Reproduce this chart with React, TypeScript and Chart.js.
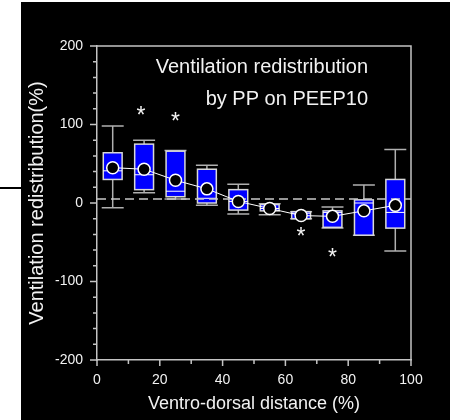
import React, { useEffect, useRef } from 'react';
import { Chart, registerables } from 'chart.js';

Chart.register(...registerables);

// ---- data ----
const positions = [5, 15, 25, 35, 45, 55, 65, 75, 85, 95];
const upperWhisker = [98, 80, 67, 48, 24, -1, -11, -5, 23, 68];
const q3 = [64, 75, 66, 43, 17, -2, -11, -10, 4, 30];
const medians = [41, 36, 15, 6, 2, -7, -13, -12, 0, -12];
const q1 = [30, 17, 8, 0, -9, -10, -20, -31, -41, -32];
const lowerWhisker = [-6, 13, 5, -3, -14, -15, -20, -32, -41, -61];
const means = [45, 43, 29, 18, 2, -7, -16, -17, -10, -3];
const outlierX = [14, 25, 65, 75];
const outlierY = [119, 111, -36, -62];
const referenceLevel = 5;
const referenceX = [0, 100];
const xTickValues = [0, 20, 40, 60, 80, 100];
const yTickValues = [-200, -100, 0, 100, 200];
const titleLines = ['Ventilation redistribution', 'by PP on PEEP10'];
const xTitle = 'Ventro-dorsal distance (%)';
const yTitle = 'Ventilation redistribution(%)';

// ---- styles ----
const FONT = "'Liberation Sans', Arial, sans-serif";
const TEXT = '#f2f2f2';
const AXIS = '#c4c4c4';
const BOX_FILL = '#0000ff';
const BOX_EDGE = '#d8d8d8';
const WHISKER = '#b0b0b0';
const BOX_HALF = 3;
const CAP_HALF = 3.5;

const boxPlugin = {
  id: 'boxes',
  beforeDatasetsDraw(chart: any) {
    const { ctx, scales } = chart;
    const x = scales.x;
    const y = scales.y;
    ctx.save();
    positions.forEach((p, i) => {
      const cx = x.getPixelForValue(p);
      const hw = x.getPixelForValue(p + BOX_HALF) - cx;
      const cw = x.getPixelForValue(p + CAP_HALF) - cx;
      const yUp = y.getPixelForValue(upperWhisker[i]);
      const yQ3 = y.getPixelForValue(q3[i]);
      const yMed = y.getPixelForValue(medians[i]);
      const yQ1 = y.getPixelForValue(q1[i]);
      const yLow = y.getPixelForValue(lowerWhisker[i]);
      ctx.strokeStyle = WHISKER;
      ctx.lineWidth = 1.5;
      ctx.beginPath();
      ctx.moveTo(cx, yUp);
      ctx.lineTo(cx, yQ3);
      ctx.moveTo(cx, yQ1);
      ctx.lineTo(cx, yLow);
      ctx.moveTo(cx - cw, yUp);
      ctx.lineTo(cx + cw, yUp);
      ctx.moveTo(cx - cw, yLow);
      ctx.lineTo(cx + cw, yLow);
      ctx.stroke();
      ctx.fillStyle = BOX_FILL;
      ctx.fillRect(cx - hw, yQ3, 2 * hw, yQ1 - yQ3);
      ctx.strokeStyle = BOX_EDGE;
      ctx.lineWidth = 1.5;
      ctx.strokeRect(cx - hw, yQ3, 2 * hw, yQ1 - yQ3);
      ctx.strokeStyle = '#ffffff';
      ctx.lineWidth = 1;
      ctx.beginPath();
      ctx.moveTo(cx - hw, yMed);
      ctx.lineTo(cx + hw, yMed);
      ctx.stroke();
    });
    ctx.restore();
  },
  afterDatasetsDraw(chart: any) {
    const { ctx, scales, chartArea } = chart;
    const x = scales.x;
    const y = scales.y;
    ctx.save();
    // outlier asterisks
    const starSize = 23;
    ctx.fillStyle = TEXT;
    ctx.font = `${starSize}px ${FONT}`;
    ctx.textAlign = 'center';
    ctx.textBaseline = 'alphabetic';
    outlierX.forEach((vx, i) => {
      ctx.fillText('*', x.getPixelForValue(vx), y.getPixelForValue(outlierY[i]) + starSize * 0.57);
    });
    // inner title
    ctx.font = `20px ${FONT}`;
    ctx.textAlign = 'right';
    ctx.fillText(titleLines[0], chartArea.right - 43, chartArea.top + 27);
    ctx.fillText(titleLines[1], chartArea.right - 43, chartArea.top + 59);
    ctx.restore();
  },
  afterDraw(chart: any) {
    const { ctx, scales, chartArea } = chart;
    const x = scales.x;
    const y = scales.y;
    ctx.save();
    ctx.strokeStyle = AXIS;
    ctx.lineWidth = 1.5;
    ctx.beginPath();
    // frame top and right
    ctx.moveTo(chartArea.left, chartArea.top);
    ctx.lineTo(chartArea.right, chartArea.top);
    ctx.lineTo(chartArea.right, chartArea.bottom);
    // y ticks
    for (let v = y.min; v <= y.max; v += 20) {
      const py = y.getPixelForValue(v);
      const len = yTickValues.includes(v) ? 7 : 4;
      ctx.moveTo(chartArea.left - len, py);
      ctx.lineTo(chartArea.left, py);
    }
    // x ticks
    for (let v = x.min; v <= x.max; v += 10) {
      const px = x.getPixelForValue(v);
      const len = xTickValues.includes(v) ? 6 : 4;
      ctx.moveTo(px, chartArea.bottom);
      ctx.lineTo(px, chartArea.bottom + len);
    }
    ctx.stroke();
    ctx.restore();
  },
};

export default function App() {
  const ref = useRef<HTMLCanvasElement>(null);
  useEffect(() => {
    if (!ref.current) return;
    const chart = new Chart(ref.current, {
      type: 'scatter',
      data: {
        datasets: [
          {
            label: 'mean',
            data: positions.map((p, i) => ({ x: p, y: means[i] })),
            showLine: true,
            borderColor: '#ffffff',
            borderWidth: 1,
            pointRadius: 6,
            pointBackgroundColor: '#000000',
            pointBorderColor: '#ffffff',
            pointBorderWidth: 1.5,
            order: 0,
          },
          {
            label: 'reference',
            data: referenceX.map((v) => ({ x: v, y: referenceLevel })),
            showLine: true,
            borderColor: '#c8c8c8',
            borderWidth: 1.5,
            borderDash: [9, 5],
            pointRadius: 0,
            order: 1,
          },
        ],
      },
      options: {
        responsive: false,
        animation: false,
        layout: { padding: { top: 46, right: 39, left: 0, bottom: 0 } },
        plugins: { legend: { display: false }, tooltip: { enabled: false } },
        scales: {
          x: {
            type: 'linear',
            position: 'bottom',
            min: 0,
            max: 100,
            afterFit: (s: any) => { s.height = 60; },
            afterBuildTicks: (s: any) => { s.ticks = xTickValues.map((v) => ({ value: v })); },
            ticks: { color: TEXT, font: { family: FONT, size: 14 }, padding: 4, autoSkip: false, maxRotation: 0 },
            grid: { display: false },
            border: { display: true, color: AXIS, width: 1.5 },
            title: { display: true, text: xTitle, color: TEXT, font: { family: FONT, size: 18 }, padding: { top: 0, bottom: 5 } },
          },
          y: {
            type: 'linear',
            position: 'left',
            min: -200,
            max: 200,
            afterFit: (s: any) => { s.width = 97; },
            afterBuildTicks: (s: any) => { s.ticks = yTickValues.map((v) => ({ value: v })); },
            ticks: { color: TEXT, font: { family: FONT, size: 14 }, padding: 6, autoSkip: false },
            grid: { display: false },
            border: { display: true, color: AXIS, width: 1.5 },
            title: { display: true, text: yTitle, color: TEXT, font: { family: FONT, size: 20 }, padding: { top: 25, bottom: 0 } },
          },
        },
      },
      plugins: [boxPlugin],
    } as any);
    return () => chart.destroy();
  }, []);

  return (
    <div style={{ position: 'absolute', left: 0, top: 0, width: 450, height: 420, background: '#ffffff', overflow: 'hidden' }}>
      <div style={{ position: 'absolute', left: 21, top: 2, width: 429, height: 418, background: '#000000' }} />
      <div style={{ position: 'absolute', left: 0, top: 187, width: 21, height: 2, background: '#000000' }} />
      <canvas ref={ref} width={450} height={420} style={{ position: 'absolute', left: 0, top: 0, display: 'block' }} />
    </div>
  );
}
